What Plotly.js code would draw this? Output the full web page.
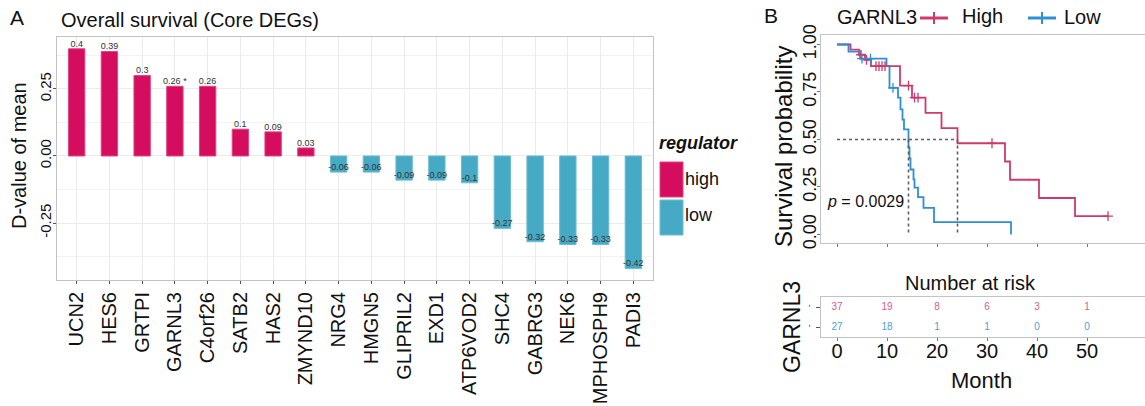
<!DOCTYPE html>
<html>
<head>
<meta charset="utf-8">
<script src="https://cdn.plot.ly/plotly-3.0.1.min.js"></script>
<style>
  html, body { margin: 0; padding: 0; background: #fff; }
  #chart { width: 1145px; height: 406px; }
</style>
</head>
<body>
<div id="chart"></div>
<script>
// ---------- Panel A: core DEGs, D-value of mean ----------
const genes = ["UCN2", "HES6", "GRTPI", "GARNL3", "C4orf26", "SATB2", "HAS2", "ZMYND10",
  "NRG4", "HMGN5", "GLIPRIL2", "EXD1", "ATP6VOD2", "SHC4", "GABRG3", "NEK6", "MPHOSPH9", "PADI3"];
const dValues = [0.4, 0.39, 0.3, 0.26, 0.26, 0.1, 0.09, 0.03,
  -0.06, -0.06, -0.09, -0.09, -0.1, -0.27, -0.32, -0.33, -0.33, -0.42];
const sigMarks = ["", "", "", " *", "", "", "", "", "", "", "", "", "", "", "", "", "", ""];
const regulator = ["high", "high", "high", "high", "high", "high", "high", "high",
  "low", "low", "low", "low", "low", "low", "low", "low", "low", "low"];
const regulatorLevels = ["high", "low"];

// ---------- Panel B: Kaplan-Meier, GARNL3 High vs Low ----------
const strataTitle = "GARNL3";
const strataNames = ["High", "Low"];
const highEventTimes = [2.7, 4.4, 5.6, 6.8, 12.6, 15.0, 17.7, 20.9, 24.1, 33.6, 34.6, 40.4, 47.6];
const highSurvival   = [0.973, 0.946, 0.919, 0.886, 0.784, 0.72, 0.64, 0.56, 0.48, 0.384, 0.288, 0.192, 0.096];
const highCensorTimes = [4.8, 5.9, 7.8, 8.4, 9.0, 9.6, 14.3, 15.5, 16.2, 31.0, 54.2];

const lowEventTimes = [2.3, 4.6, 9.9, 10.5, 12.2, 12.7, 13.1, 13.4, 14.3, 14.5, 14.7, 15.3, 15.5, 16.2, 17.3, 19.4, 34.8];
const lowSurvival   = [0.963, 0.926, 0.886, 0.772, 0.72, 0.658, 0.605, 0.553, 0.458, 0.40, 0.342, 0.29, 0.246, 0.196, 0.14, 0.065, 0];
const lowCensorTimes = [5.0, 6.7, 11.2];

const riskTimes = [0, 10, 20, 30, 40, 50];
const riskHigh = [37, 19, 8, 6, 3, 1];
const riskLow  = [27, 18, 1, 1, 0, 0];
const pValueText = "<i>p</i> = 0.0029";

// ---------- styling ----------
const W = 1145, H = 406;
const px = x => x / W;
const py = y => 1 - y / H;
const FONT = "Liberation Sans, Arial, Helvetica, sans-serif";
const fillColor = { high: "#D50D5F", low: "#47AAC5" };
const edgeColor = { high: "#E0457F", low: "#6BBCD3" };
const kmHigh = "#CF3A6C", kmLow = "#2F8FD3";
const riskHighColor = "#DA5C86", riskLowColor = "#4AA0DC";
const borderColor = "#C3C3C3", gridColor = "#EBEBEB";

// step path from event arrays, extended to the last follow-up time
function stepPath(times, surv, lastTime) {
  const x = [0], y = [1];
  times.forEach((t, i) => { x.push(t); y.push(surv[i]); });
  const end = Math.max(lastTime, times[times.length - 1]);
  x.push(end); y.push(surv[surv.length - 1]);
  return { x, y };
}
function survivalAt(times, surv, t) {
  let s = 1;
  times.forEach((et, i) => { if (et <= t) s = surv[i]; });
  return s;
}
function medianTime(times, surv) {
  for (let i = 0; i < surv.length; i++) if (surv[i] <= 0.5) return times[i];
  return null;
}

const highPath = stepPath(highEventTimes, highSurvival, Math.max(...highCensorTimes));
const lowPath = stepPath(lowEventTimes, lowSurvival, Math.max(...lowCensorTimes));
const medHigh = medianTime(highEventTimes, highSurvival);
const medLow = medianTime(lowEventTimes, lowSurvival);
const medMax = Math.max(medHigh, medLow);

const traces = [
  {
    type: "bar", x: genes, y: dValues, xaxis: "x", yaxis: "y", width: 0.5,
    marker: { color: regulator.map(r => fillColor[r]), line: { color: regulator.map(r => edgeColor[r]), width: 1 } },
    hoverinfo: "x+y"
  },
  {
    type: "scatter", mode: "text", x: genes, y: dValues, xaxis: "x", yaxis: "y",
    text: dValues.map((v, i) => String(v) + sigMarks[i]),
    textposition: "top center", textfont: { size: 9, color: "#333", family: FONT },
    cliponaxis: false, hoverinfo: "skip"
  },
  // survival curves
  {
    type: "scatter", mode: "lines", x: highPath.x, y: highPath.y, xaxis: "x2", yaxis: "y2",
    line: { shape: "hv", color: kmHigh, width: 1.8 }, hoverinfo: "x+y"
  },
  {
    type: "scatter", mode: "lines", x: lowPath.x, y: lowPath.y, xaxis: "x2", yaxis: "y2",
    line: { shape: "hv", color: kmLow, width: 1.8 }, hoverinfo: "x+y"
  },
  {
    type: "scatter", mode: "markers", x: highCensorTimes,
    y: highCensorTimes.map(t => survivalAt(highEventTimes, highSurvival, t)),
    xaxis: "x2", yaxis: "y2",
    marker: { symbol: "cross-thin", size: 7, line: { color: kmHigh, width: 1.3 } },
    hoverinfo: "skip"
  },
  {
    type: "scatter", mode: "markers", x: lowCensorTimes,
    y: lowCensorTimes.map(t => survivalAt(lowEventTimes, lowSurvival, t)),
    xaxis: "x2", yaxis: "y2",
    marker: { symbol: "cross-thin", size: 7, line: { color: kmLow, width: 1.3 } },
    hoverinfo: "skip"
  },
  // median survival guides
  {
    type: "scatter", mode: "lines", xaxis: "x2", yaxis: "y2",
    x: [0, medMax, null, medLow, medLow, null, medHigh, medHigh],
    y: [0.5, 0.5, null, 0.5, 0, null, 0.5, 0],
    line: { color: "#5f5f5f", width: 1.6, dash: "dot" }, hoverinfo: "skip"
  },
  // number at risk table
  {
    type: "scatter", mode: "text", x: riskTimes, y: riskTimes.map(() => 1), xaxis: "x3", yaxis: "y3",
    text: riskHigh.map(String), textfont: { size: 10, color: riskHighColor, family: FONT },
    hoverinfo: "skip"
  },
  {
    type: "scatter", mode: "text", x: riskTimes, y: riskTimes.map(() => 0), xaxis: "x3", yaxis: "y3",
    text: riskLow.map(String), textfont: { size: 10, color: riskLowColor, family: FONT },
    hoverinfo: "skip"
  }
];

// paper-positioned text helper (pixel coordinates, explicit anchors)
function label(text, x, y, size, opts) {
  return Object.assign({
    text: text, x: px(x), y: py(y), xref: "paper", yref: "paper",
    xanchor: "center", yanchor: "middle", showarrow: false,
    font: { size: size, color: "#111", family: FONT }
  }, opts || {});
}

const annotations = [
  label("A", 17, 17, 21),
  label("Overall survival (Core DEGs)", 59, 20, 20, { xanchor: "left" }),
  label("D-value of mean", 19, 156, 20, { textangle: -90 }),
  label("<b><i>regulator</i></b>", 657, 143, 18, { xanchor: "left" }),
  label("high", 683, 179, 18, { xanchor: "left" }),
  label("low", 683, 215, 18, { xanchor: "left" }),
  label("B", 771, 16, 21),
  label(strataTitle, 835, 17, 20, { xanchor: "left" }),
  label(strataNames[0], 960, 16, 20, { xanchor: "left" }),
  label(strataNames[1], 1062, 17, 20, { xanchor: "left" }),
  label("Survival probability", 784, 147, 24, { textangle: -90 }),
  { text: pValueText, x: -2.4, y: 0.173, xref: "x2", yref: "y2", xanchor: "left", yanchor: "middle",
    showarrow: false, font: { size: 16, color: "#111", family: FONT } },
  label("Number at risk", 970, 283, 20),
  label(strataTitle, 792, 327, 23, { textangle: -90 }),
  label("Month", 981, 380, 22)
];

// legend keys: regulator swatches (panel A) and strata line keys (panel B)
const shapes = regulatorLevels.map((lvl, i) => ({
  type: "rect", xref: "paper", yref: "paper",
  x0: px(660), x1: px(683), y0: py(162 + i * 38), y1: py(197 + i * 38),
  fillcolor: fillColor[lvl], line: { color: edgeColor[lvl], width: 1 }
}));
[[920, kmHigh], [1028, kmLow]].forEach(([x0, c]) => {
  shapes.push({ type: "line", xref: "paper", yref: "paper", x0: px(x0), x1: px(x0 + 28), y0: py(18), y1: py(18),
    line: { color: c, width: 3 } });
  shapes.push({ type: "line", xref: "paper", yref: "paper", x0: px(x0 + 14), x1: px(x0 + 14), y0: py(12), y1: py(24),
    line: { color: c, width: 2 } });
});

const layout = {
  width: W, height: H,
  margin: { l: 0, r: 0, t: 0, b: 0 },
  paper_bgcolor: "#fff", plot_bgcolor: "#fff",
  font: { family: FONT, color: "#111" },
  showlegend: false,
  bargap: 0,
  xaxis: {
    domain: [px(57), px(653)], anchor: "y", type: "category", range: [-0.6, 17.6],
    showgrid: true, gridcolor: gridColor, gridwidth: 1,
    ticks: "outside", ticklen: 3, tickcolor: "#555", tickangle: -90,
    tickfont: { size: 20, color: "#111" },
    showline: true, mirror: true, linecolor: borderColor, linewidth: 1, zeroline: false
  },
  yaxis: {
    domain: [py(280), py(37)], anchor: "x", range: [-0.4627, 0.444],
    tickmode: "array", tickvals: [-0.25, 0, 0.25], ticktext: ["-0.25", "0.00", "0.25"],
    tickangle: -90, tickfont: { size: 15, color: "#111" },
    ticks: "outside", ticklen: 3, tickcolor: "#555", ticklabelstandoff: -4,
    showgrid: true, gridcolor: gridColor, gridwidth: 1,
    minor: { tickmode: "array", tickvals: [-0.375, -0.125, 0.125, 0.375], showgrid: true, gridcolor: "#F3F3F3", ticks: "" },
    showline: true, mirror: true, linecolor: borderColor, linewidth: 1, zeroline: false
  },
  xaxis2: {
    domain: [px(821), 1], anchor: "y2", range: [-3.2, 61.6],
    tickmode: "array", tickvals: riskTimes, showticklabels: false,
    ticks: "outside", ticklen: 3, tickcolor: "#777",
    showgrid: false, zeroline: false, showline: true, mirror: true, linecolor: borderColor, linewidth: 1
  },
  yaxis2: {
    domain: [py(243), py(35)], anchor: "x2", range: [-0.045, 1.05],
    tickmode: "array", tickvals: [0, 0.25, 0.5, 0.75, 1], ticktext: ["0.00", "0.25", "0.50", "0.75", "1.00"],
    tickangle: -90, tickfont: { size: 18, color: "#111" },
    ticks: "outside", ticklen: 3, tickcolor: "#777", ticklabelstandoff: -6,
    showgrid: false, zeroline: false, showline: true, mirror: false, linecolor: borderColor, linewidth: 1
  },
  xaxis3: {
    domain: [px(821), 1], anchor: "y3", range: [-3.2, 61.6],
    tickmode: "array", tickvals: riskTimes, ticktext: riskTimes.map(String),
    tickfont: { size: 20, color: "#111" },
    ticks: "outside", ticklen: 3, tickcolor: "#777", ticklabelstandoff: -7,
    showgrid: false, zeroline: false, showline: true, mirror: true, linecolor: borderColor, linewidth: 1
  },
  yaxis3: {
    domain: [py(337), py(297)], anchor: "x3", range: [-0.5, 1.5],
    tickmode: "array", tickvals: [0, 1], ticktext: ["-", "-"], tickangle: -90,
    tickfont: { size: 9, color: "#444" }, ticks: "outside", ticklen: 4, tickcolor: "#555",
    showgrid: false, zeroline: false, showline: true, mirror: false, linecolor: borderColor, linewidth: 1
  },
  annotations: annotations,
  shapes: shapes
};

Plotly.newPlot("chart", traces, layout, { displayModeBar: false, staticPlot: true });
</script>
</body>
</html>
